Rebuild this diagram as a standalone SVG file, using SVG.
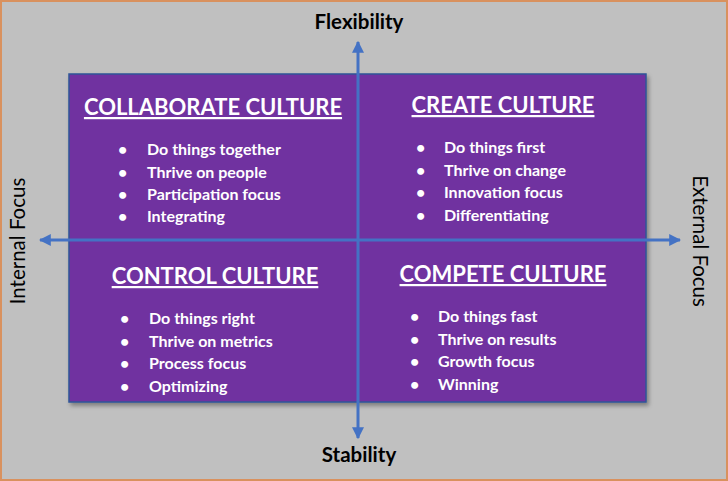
<svg xmlns="http://www.w3.org/2000/svg" width="728" height="481" viewBox="0 0 728 481">
<style>
.lbl{font-family:Lato,"Open Sans","Liberation Sans",sans-serif;font-weight:bold;fill:#000;font-size:20.5px}
.side{font-family:Lato,"Open Sans","Liberation Sans",sans-serif;font-weight:normal;fill:#000;font-size:20.5px}
.ttl{font-family:Lato,"Open Sans","Liberation Sans",sans-serif;font-weight:bold;fill:#fff;font-size:22px;text-decoration:underline}
.itm{font-family:Lato,"Open Sans","Liberation Sans",sans-serif;font-weight:bold;fill:#fff;font-size:16px}
.ax{stroke:#4472C4;stroke-width:3;fill:none}
</style>
<defs>
<marker id="ah" viewBox="0 0 10 10" refX="9" refY="5" markerWidth="4" markerHeight="4" orient="auto" markerUnits="strokeWidth">
<path d="M0,0 L10,5 L0,10 Z" fill="#4472C4"/>
</marker>
<filter id="sh" x="-5%" y="-5%" width="110%" height="115%">
<feDropShadow dx="2" dy="3" stdDeviation="2" flood-color="#000" flood-opacity="0.35"/>
</filter>
</defs>
<rect x="1" y="1" width="726" height="479" fill="#C0C0C0" stroke="#D9915E" stroke-width="2"/>
<rect id="box" x="69" y="74" width="577" height="328" fill="#7030A0" stroke="#2F5597" stroke-width="1.5" filter="url(#sh)"/>
<g id="connectors">
<line class="ax" x1="358" y1="240" x2="358" y2="42" marker-end="url(#ah)"/>
<line class="ax" x1="358" y1="240" x2="358" y2="438" marker-end="url(#ah)"/>
<line class="ax" x1="358" y1="240" x2="40" y2="240" marker-end="url(#ah)"/>
<line class="ax" x1="358" y1="240" x2="680" y2="240" marker-end="url(#ah)"/>
</g>
<g id="flexibility"><text class="lbl" x="359" y="29" text-anchor="middle">Flexibility</text></g>
<g id="stability"><text class="lbl" x="359" y="462" text-anchor="middle">Stability</text></g>
<g id="internal"><text class="side" transform="translate(25,241) rotate(-90)" text-anchor="middle">Internal Focus</text></g>
<g id="external"><text class="side" transform="translate(693,241) rotate(90)" text-anchor="middle">External Focus</text></g>
<g id="collaborate">
<text class="ttl" x="213" y="115" text-anchor="middle">COLLABORATE CULTURE</text>
<g class="itm"><text x="118" y="155">•</text><text x="147" y="155">Do things together</text>
<text x="118" y="178">•</text><text x="147" y="178">Thrive on people</text>
<text x="118" y="200">•</text><text x="147" y="200">Participation focus</text>
<text x="118" y="222">•</text><text x="147" y="222">Integrating</text></g>
</g>
<g id="create">
<text class="ttl" x="503" y="113" text-anchor="middle">CREATE CULTURE</text>
<g class="itm"><text x="416" y="153">•</text><text x="444" y="153">Do things first</text>
<text x="416" y="176">•</text><text x="444" y="176">Thrive on change</text>
<text x="416" y="198">•</text><text x="444" y="198">Innovation focus</text>
<text x="416" y="221">•</text><text x="444" y="221">Differentiating</text></g>
</g>
<g id="control">
<text class="ttl" x="215" y="284" text-anchor="middle">CONTROL CULTURE</text>
<g class="itm"><text x="120" y="324">•</text><text x="149" y="324">Do things right</text>
<text x="120" y="347">•</text><text x="149" y="347">Thrive on metrics</text>
<text x="120" y="369">•</text><text x="149" y="369">Process focus</text>
<text x="120" y="392">•</text><text x="149" y="392">Optimizing</text></g>
</g>
<g id="compete">
<text class="ttl" x="503" y="282" text-anchor="middle">COMPETE CULTURE</text>
<g class="itm"><text x="410" y="322">•</text><text x="438" y="322">Do things fast</text>
<text x="410" y="345">•</text><text x="438" y="345">Thrive on results</text>
<text x="410" y="367">•</text><text x="438" y="367">Growth focus</text>
<text x="410" y="390">•</text><text x="438" y="390">Winning</text></g>
</g>
</svg>
